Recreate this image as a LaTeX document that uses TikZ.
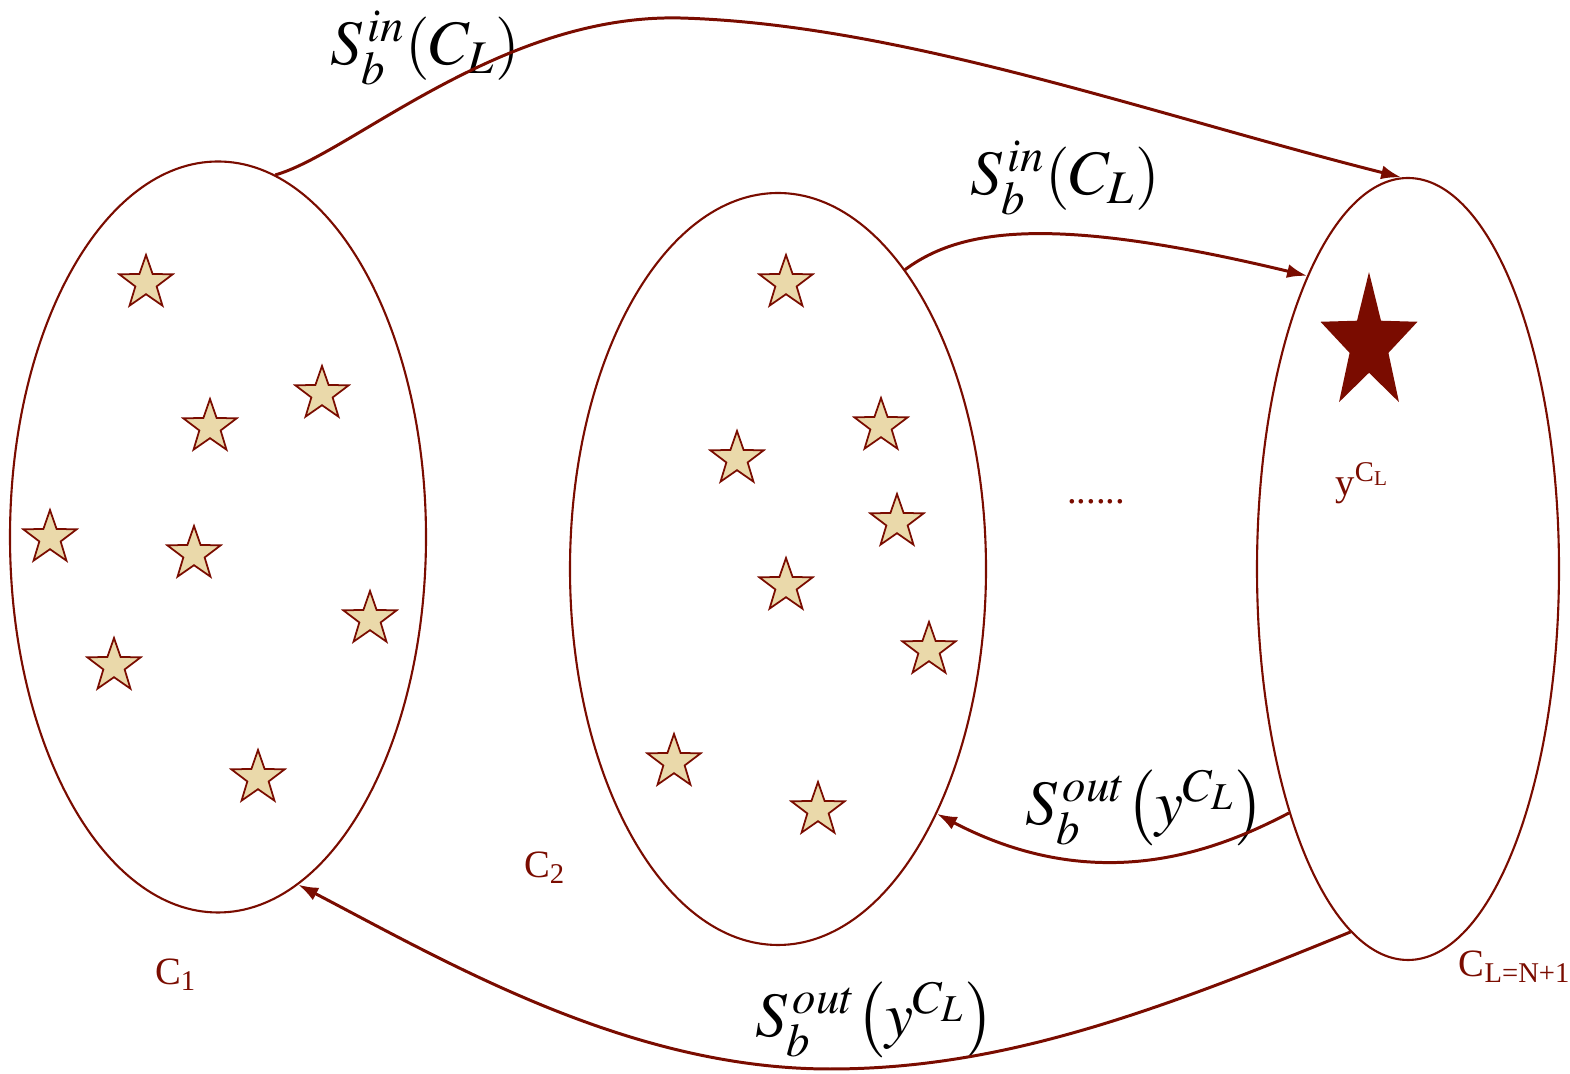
\documentclass[tikz,border=0pt]{standalone}
\usepackage{mathptmx}
\usepackage[no-math]{fontspec}
\setmainfont{Liberation Serif}
\usetikzlibrary{shapes.geometric}
\usetikzlibrary{arrows.meta}
\definecolor{dred}{RGB}{122,12,0}
\definecolor{sand}{RGB}{234,217,170}

\begin{document}
\begin{tikzpicture}[
  set/.style={draw=dred,line width=0.6pt,ellipse,inner sep=0pt},
  pt/.style={star,star points=5,star point ratio=2.5,draw=dred,fill=sand,line width=0.5pt,minimum size=5.6mm,inner sep=0pt},
  lnk/.style={draw=dred,line width=0.85pt,-{Latex[length=2mm,width=1.4mm]}},
  lab/.style={font=\fontsize{18}{20}\selectfont},
  tag/.style={text=dred,font=\fontsize{11}{13}\selectfont}]
\useasboundingbox (0,0) rectangle (15.7,10.74);
% the three sets
\node[set,minimum width=41.6mm,minimum height=75.1mm](c1) at (2.18,5.37){};
\node[set,minimum width=41.6mm,minimum height=75.2mm](c2) at (7.78,5.05){};
\node[set,minimum width=30.2mm,minimum height=78.2mm](c3) at (14.08,5.05){};
% members
\foreach \x/\y [count=\i] in {1.46/7.91,2.10/6.47,3.22/6.80,0.50/5.36,1.94/5.20,3.70/4.55,1.14/4.08,2.58/2.96}
  \node[pt](a\i) at (\x,\y){};
\foreach \x/\y [count=\i] in {7.86/7.91,7.37/6.15,8.81/6.48,8.97/5.52,7.86/4.88,9.29/4.24,6.74/3.12,8.18/2.64}
  \node[pt](b\i) at (\x,\y){};
\node[star,star points=5,star point ratio=2.5,fill=dred,inner sep=0pt,minimum size=10.2mm,yscale=1.41,transform shape](best) at (13.69,7.30){};
% labels
\node[tag](lc1) at (1.76,0.99){C\textsubscript{1}};
\node[tag](lc2) at (5.45,2.06){C\textsubscript{2}};
\node[tag](lcn) at (15.15,1.07){C\textsubscript{L=N+1}};
\node[tag](ly) at (13.63,5.91){y\textsuperscript{C\textsubscript{L}}};
\node[tag](dots) at (10.96,5.72){......};
\node[lab](lin1) at (4.25,10.26){$S_b^{\,in}(C_L)$};
\node[lab](lin2) at (10.65,8.96){$S_b^{\,in}(C_L)$};
\node[lab](lout1) at (11.45,2.66){$S_b^{\,out}\bigl(y^{C_L}\bigr)$};
\node[lab](lout2) at (8.75,0.54){$S_b^{\,out}\bigl(y^{C_L}\bigr)$};
% links
\draw[lnk](c1.81) .. controls (3.5,9.2) and (5.0,10.6) .. (6.8,10.56)
  .. controls (9.0,10.5) and (11.5,9.6) .. (c3.91);
\draw[lnk](c2.67) .. controls (9.6,8.45) and (10.5,8.6) .. (c3.109);
\draw[lnk](c3.244) .. controls (12.2,2.25) and (11.0,1.75) .. (c2.303);
\draw[lnk](c3.261) .. controls (11.5,0.6) and (10.0,0.05) .. (8.3,0.05)
  .. controls (6.3,0.05) and (4.5,1.1) .. (c1.283);
\end{tikzpicture}
\end{document}
